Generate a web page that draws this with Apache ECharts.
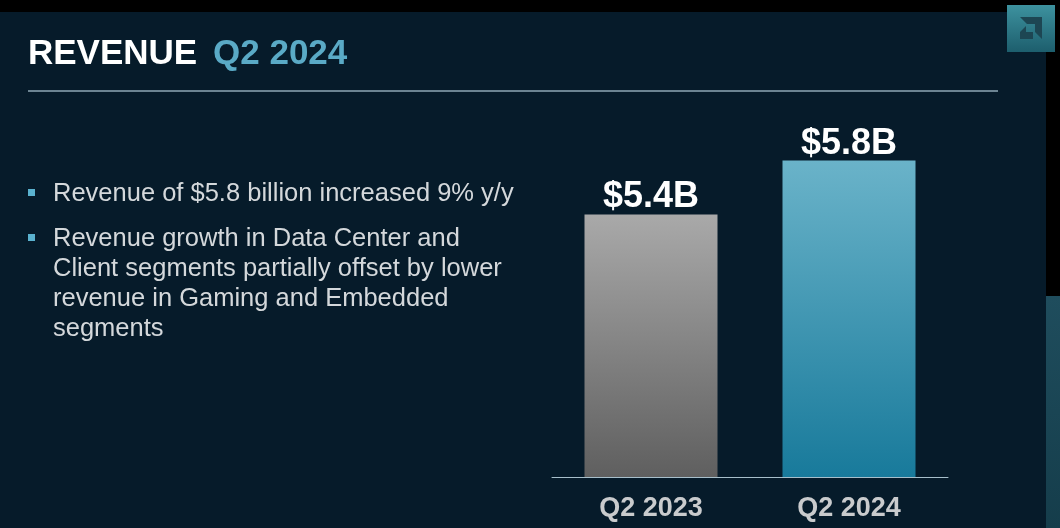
<!DOCTYPE html>
<html>
<head>
<meta charset="utf-8">
<script src="https://cdn.jsdelivr.net/npm/echarts@6/dist/echarts.min.js"></script>
<style>
  html, body { margin: 0; padding: 0; background: #000; }
  #chart { width: 1060px; height: 528px; }
</style>
</head>
<body>
<div id="chart"></div>
<script>
// data
var categories = ['Q2 2023', 'Q2 2024'];
var revenue = [5.4, 5.8];          // $B
var barLabels = ['$5.4B', '$5.8B'];
var titleMain = 'REVENUE';
var titleAccent = 'Q2 2024';
var bullets = [
  ['Revenue of $5.8 billion increased 9% y/y'],
  ['Revenue growth in Data Center and',
   'Client segments partially offset by lower',
   'revenue in Gaming and Embedded',
   'segments']
];

var FONT = '"Liberation Sans", Arial, sans-serif';
var chart = echarts.init(document.getElementById('chart'));

function grad(top, bottom) {
  return new echarts.graphic.LinearGradient(0, 0, 0, 1, [
    { offset: 0, color: top },
    { offset: 1, color: bottom }
  ]);
}
var barColors = [grad('#a9a9a9', '#5f5f5f'), grad('#6ab3c9', '#187a9b')];

var graphics = [
  // slide background + black frame bits
  { type: 'rect', shape: { x: 0, y: 12, width: 1046, height: 516 }, style: { fill: '#061b2a' }, z: -10 },
  { type: 'rect', shape: { x: 1046, y: 296, width: 14, height: 232 },
    style: { fill: grad('#1f4d5d', '#153d4b') }, z: -10 },
  // logo
  { type: 'rect', shape: { x: 1007, y: 5, width: 48, height: 47 },
    style: { fill: grad('#3d929f', '#1d5e6d') } },
  { type: 'polygon', shape: { points: [[1020, 17], [1042, 17], [1042, 39], [1035, 32], [1035, 24], [1027, 24]] },
    style: { fill: '#1d4653' } },
  { type: 'polygon', shape: { points: [[1020, 32], [1026, 26], [1026, 32], [1033, 32], [1033, 39], [1020, 39]] },
    style: { fill: '#1d4653' } },
  // title
  { type: 'text', x: 28, y: 54,
    style: { text: titleMain, fill: '#ffffff', font: 'bold 35px ' + FONT, verticalAlign: 'middle' } },
  { type: 'text', x: 213, y: 54,
    style: { text: titleAccent, fill: '#5aaac6', font: 'bold 35px ' + FONT, verticalAlign: 'middle' } },
  { type: 'line', shape: { x1: 28, y1: 91, x2: 998, y2: 91 },
    style: { stroke: '#8fa8b6', lineWidth: 1.5 } }
];

// bullets
var bulletTop = [179, 224];
bullets.forEach(function (lines, i) {
  graphics.push({ type: 'rect', shape: { x: 28, y: bulletTop[i] + 10, width: 7, height: 7 },
    style: { fill: '#5ab2cf' } });
  graphics.push({ type: 'text', x: 53, y: bulletTop[i],
    style: { text: lines.join('\n'), fill: '#d4d8db', font: '25.5px ' + FONT,
      lineHeight: 30, verticalAlign: 'top' } });
});

chart.setOption({
  backgroundColor: '#000',
  animation: false,
  graphic: graphics,
  grid: { left: 552, right: 112, top: 100, bottom: 51 },
  xAxis: {
    type: 'category',
    data: categories,
    axisLine: { lineStyle: { color: '#a7bfcb', width: 1 } },
    axisTick: { show: false },
    axisLabel: { color: '#c9cbcd', fontFamily: FONT, fontWeight: 'bold', fontSize: 27, margin: 18 }
  },
  yAxis: {
    type: 'value', min: 3.45, max: 6.25, show: false
  },
  series: [{
    type: 'bar',
    barWidth: 133,
    data: revenue.map(function (v, i) {
      return { value: v, itemStyle: { color: barColors[i] } };
    }),
    label: {
      show: true, position: 'top', distance: -1,
      color: '#ffffff', fontFamily: FONT, fontWeight: 'bold', fontSize: 36,
      formatter: function (p) { return barLabels[p.dataIndex]; }
    }
  }]
});
</script>
</body>
</html>
